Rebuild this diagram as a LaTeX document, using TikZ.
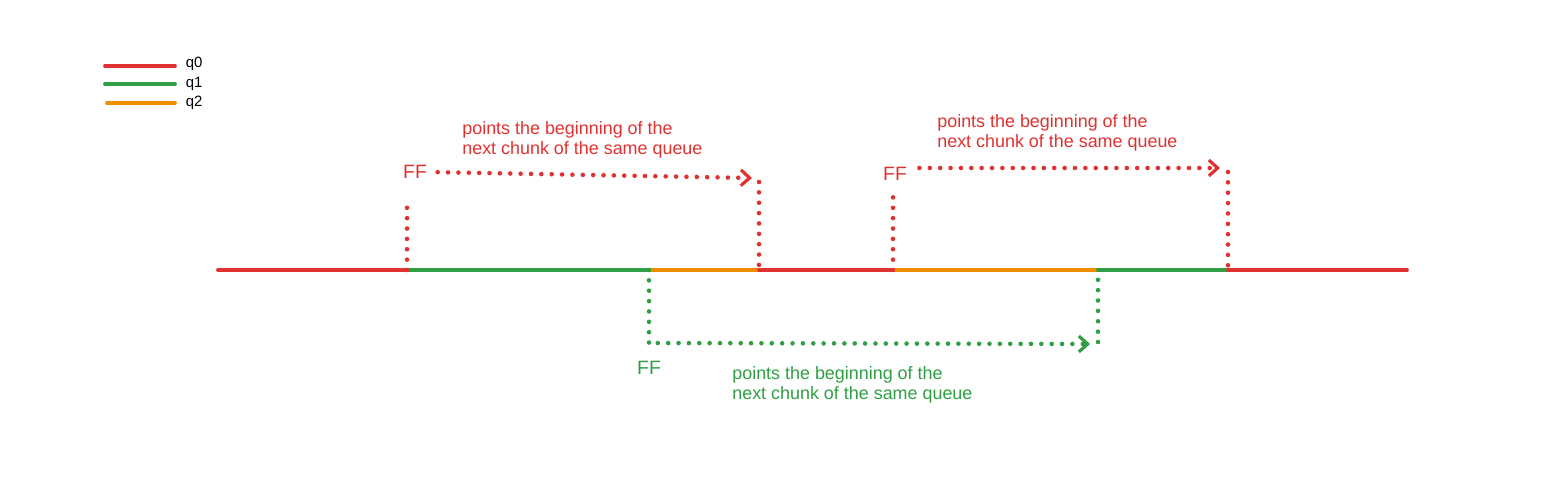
\documentclass[tikz,border=0pt]{standalone}
\usepackage{fontspec}
\setmainfont{Liberation Sans}
\usetikzlibrary{arrows.meta,positioning}

\definecolor{qred}{HTML}{E03131}
\definecolor{qgreen}{HTML}{2F9E44}
\definecolor{qorange}{HTML}{F08C00}

\begin{document}
\begin{tikzpicture}[
      x=0.02cm, y=-0.02cm,
      seg/.style={line width=2.2pt, line cap=round},
      ptr/.style={line width=2.6pt, line cap=round, dash pattern=on 0pt off 5.9pt},
      ptrarrow/.style={ptr, -{Straight Barb[length=5pt,width=9pt,line width=1.8pt]}},
      fflabel/.style={font=\fontsize{11}{11}\selectfont, inner sep=1pt},
      legend/.style={font=\fontsize{8.5}{8.5}\selectfont, inner sep=0pt},
      note/.style={font=\fontsize{10.2}{11.2}\selectfont, align=left,
         inner sep=0pt, anchor=north west},
      node distance=6pt
      ]
      \useasboundingbox (0,0) rectangle (1542,492);

      % legend
      \coordinate (l0a) at (105,66);  \coordinate (l0b) at (175,66);
      \coordinate (l1a) at (105,84);  \coordinate (l1b) at (175,84);
      \coordinate (l2a) at (107,103); \coordinate (l2b) at (175,103);
      \draw[seg,qred] (l0a) -- (l0b);
      \draw[seg,qgreen] (l1a) -- (l1b);
      \draw[seg,qorange] (l2a) -- (l2b);
      \node[legend,right=of l0b,yshift=1pt] (lq0) {q0};
      \node[legend,right=of l1b] (lq1) {q1};
      \node[legend,right=of l2b] (lq2) {q2};

      % the chunk line
      \coordinate (p0) at (218,270);
      \coordinate (p1) at (407,270);
      \coordinate (p2) at (649,270);
      \coordinate (p3) at (759,270);
      \coordinate (p4) at (893,270);
      \coordinate (p5) at (1098,270);
      \coordinate (p6) at (1228,270);
      \coordinate (p7) at (1407,270);

    \foreach \a/\b/\c in {% start/end/queue colour
      p0/p1/qred,
      p1/p2/qgreen,
      p2/p3/qorange,
      p3/p4/qred,
      p4/p5/qorange,
      p5/p6/qgreen,
      p6/p7/qred}
       \draw[seg,\c] (\a) -- (\b);

      % q0 pointer, first chunk
      \node[fflabel,qred] (ff1) at (415,172) {FF};
      \coordinate (u1) at (407,198);
      \coordinate (t1) at (752,178);
      \coordinate (d1) at (759,182);
      \draw[ptr,qred] (p1) -- (u1);
      \draw[ptrarrow,qred,shorten <=5pt] (ff1.east) -- (t1);
      \draw[ptr,qred] (d1) -- (p3);
      \node[note,qred] (n1) at (462,121)
        {points the beginning of the\\next chunk of the same queue};

      % q0 pointer, second chunk
      \node[fflabel,qred] (ff2) at (895,174) {FF};
      \coordinate (u2) at (893,190);
      \coordinate (t2) at (1220,168);
      \coordinate (d2) at (1228,172);
      \draw[ptr,qred] (p4) -- (u2);
      \draw[ptrarrow,qred,shorten <=6pt] (ff2.east |- t2) -- (t2);
      \draw[ptr,qred] (d2) -- (p6);
      \node[note,qred] (n2) at (937,114)
        {points the beginning of the\\next chunk of the same queue};

      % q1 pointer
      \node[fflabel,qgreen] (ff3) at (649,368) {FF};
      \coordinate (g1) at (649,343);
      \coordinate (g2) at (1090,344);
      \coordinate (g3) at (1098,342);
      \draw[ptr,qgreen] (p2) -- (g1);
      \draw[ptrarrow,qgreen,shorten <=5pt] (g1) -- (g2);
      \draw[ptr,qgreen] (g3) -- (p5);
      \node[note,qgreen] (n3) at (732,366)
        {points the beginning of the\\next chunk of the same queue};
\end{tikzpicture}
\end{document}
